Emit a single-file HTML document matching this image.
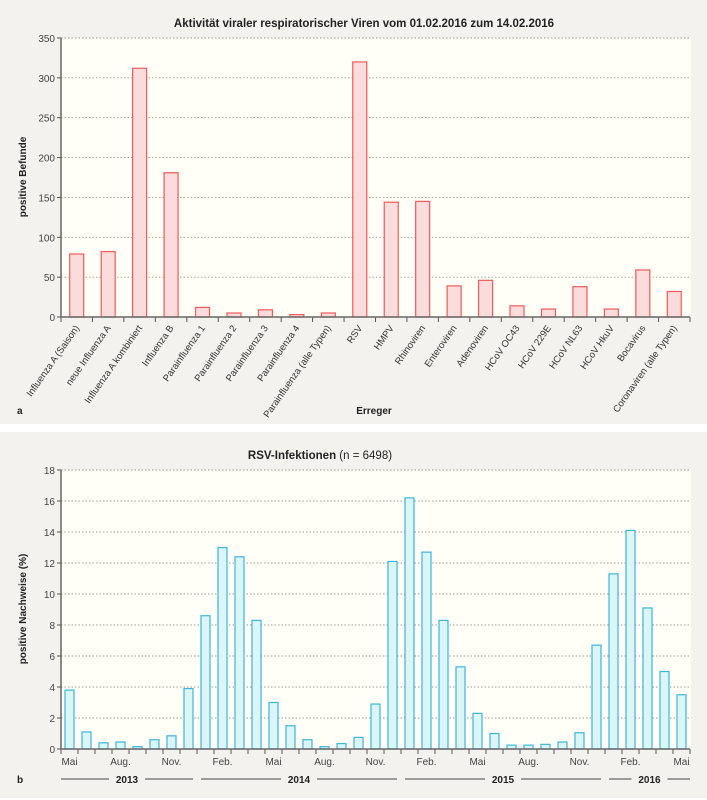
<!DOCTYPE html>
<html><head><meta charset="utf-8"><style>
body{margin:0;background:#fff;}
svg{display:block;font-family:"Liberation Sans",sans-serif;}
</style></head><body>
<svg width="707" height="800">
<rect x="0" y="0" width="707" height="424" fill="#f3f2ef"/>
<rect x="0" y="432" width="707" height="366" fill="#f3f2ef"/>
<rect x="61" y="38" width="630" height="279" fill="#fffef7"/>
<rect x="61" y="470" width="630" height="279" fill="#fffef7"/>
<text x="364" y="27" text-anchor="middle" font-size="11.5" font-weight="bold" fill="#222">Aktivität viraler respiratorischer Viren vom 01.02.2016 zum 14.02.2016</text>
<text transform="translate(26,177) rotate(-90)" text-anchor="middle" font-size="10" font-weight="bold" fill="#222">positive Befunde</text>
<text x="374" y="414" text-anchor="middle" font-size="10" font-weight="bold" fill="#222">Erreger</text>
<text x="17" y="414" font-size="10" font-weight="bold" fill="#222">a</text>
<text x="320" y="459" text-anchor="middle" font-size="11.5" fill="#222"><tspan font-weight="bold">RSV-Infektionen</tspan> (n = 6498)</text>
<text transform="translate(26,609) rotate(-90)" text-anchor="middle" font-size="10" font-weight="bold" fill="#222">positive Nachweise (%)</text>
<text x="17" y="783" font-size="10" font-weight="bold" fill="#222">b</text>
<g id="ga"></g><g id="gb"></g>
</svg>
<script>
const catsA=["Influenza A (Saison)","neue Influenza A","Influenza A kombiniert","Influenza B","Parainfluenza 1","Parainfluenza 2","Parainfluenza 3","Parainfluenza 4","Parainfluenza (alle Typen)","RSV","HMPV","Rhinoviren","Enteroviren","Adenoviren","HCoV OC43","HCoV 229E","HCoV NL63","HCoV HkuV","Bocavirus","Coronaviren (alle Typen)"];
const valsA=[79,82,312,181,12,5,9,3,5,320,144,145,39,46,14,10,38,10,59,32];
const ticksA=[0,50,100,150,200,250,300,350];
const monthsB=["Mai","","","Aug.","","","Nov.","","","Feb.","","","Mai","","","Aug.","","","Nov.","","","Feb.","","","Mai","","","Aug.","","","Nov.","","","Feb.","","","Mai"];
const valsB=[3.8,1.1,0.4,0.45,0.15,0.6,0.85,3.9,8.6,13.0,12.4,8.3,3.0,1.5,0.6,0.15,0.35,0.75,2.9,12.1,16.2,12.7,8.3,5.3,2.3,1.0,0.25,0.25,0.3,0.45,1.05,6.7,11.3,14.1,9.1,5.0,3.5];
const ticksB=[0,2,4,6,8,10,12,14,16,18];
const yearsB=["2013","2014","2015","2016"];
const yearStart=[0,8,20,32], yearEnd=[8,20,32,37];
const NS="http://www.w3.org/2000/svg";
function mk(p,t,a){const e=document.createElementNS(NS,t);for(const k in a)e.setAttribute(k,a[k]);p.appendChild(e);return e;}
function chart(g,cats,vals,ticks,max,top,bot,stroke,fill,bw){
 const L=61,R=690,step=(R-L)/vals.length;
 const y=v=>bot-(v/max)*(bot-top);
 ticks.forEach(t=>{
  const l=mk(g,'line',{x1:L,x2:R,y1:y(t),y2:y(t),stroke:'#999','stroke-dasharray':'1.5,2','stroke-width':0.9});
  
  
  const tx=mk(g,'text',{x:L-6,y:y(t)+4,'text-anchor':'end','font-size':10,fill:'#444'});tx.textContent=t;
  
  
  mk(g,'line',{x1:L-4,x2:L,y1:y(t),y2:y(t),stroke:'#555'});
 });
 vals.forEach((v,i)=>{
  const cx=L+step*(i+0.5);
  const r=mk(g,'rect',{x:cx-bw/2,y:y(v),width:bw,height:bot-y(v),fill:fill,stroke:stroke,'stroke-width':1.2});
  
  
 });
 for(let i=0;i<=vals.length;i++)mk(g,'line',{x1:L+step*i,x2:L+step*i,y1:bot,y2:bot+5,stroke:'#555'});
 mk(g,'line',{x1:L,x2:L,y1:top,y2:bot,stroke:'#666','stroke-width':1.5});
 mk(g,'line',{x1:L,x2:R,y1:bot,y2:bot,stroke:'#666','stroke-width':1.5});
 return {L,step};
}
const ga=document.getElementById('ga'),gb=document.getElementById('gb');
const a=chart(ga,catsA,valsA,ticksA,350,38,317,'#ef5a5a','#fbdcdc',14);
catsA.forEach((c,i)=>{
 const cx=a.L+a.step*(i+0.5);
 const t=mk(ga,'text',{transform:`translate(${cx+3},${328}) rotate(-55)`,'text-anchor':'end','font-size':9.5,fill:'#333'});t.textContent=c;
 
 
});
const b=chart(gb,monthsB,valsB,ticksB,18,470,749,'#3cb6dd','#dcf6f8',9);
monthsB.forEach((m,i)=>{if(!m)return;
 const t=mk(gb,'text',{x:b.L+b.step*(i+0.5),y:765,'text-anchor':'middle','font-size':10,fill:'#444'});t.textContent=m;
 
 
});
yearsB.forEach((yv,i)=>{
 const x1=b.L+b.step*yearStart[i]+(i?4:0), x2=b.L+b.step*yearEnd[i]-(i<3?4:0), cx=(x1+x2)/2;
 const l=mk(gb,'line',{x1:x1,x2:x2,y1:779,y2:779,stroke:'#444','stroke-width':1});
 
 
 mk(gb,'rect',{x:cx-18,y:772,width:36,height:14,fill:'#f3f2ef'});
 const t=mk(gb,'text',{x:cx,y:783,'text-anchor':'middle','font-size':10,'font-weight':'bold',fill:'#222'});t.textContent=yv;
 
 
});
</script>
</body></html>
